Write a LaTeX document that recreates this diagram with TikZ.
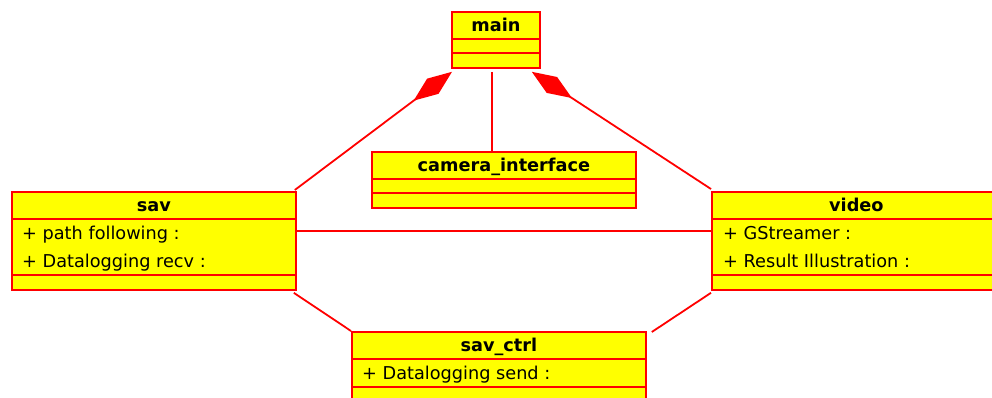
\documentclass[tikz,border=0pt]{standalone}
\usepackage{fontspec}
\setmainfont{DejaVu Sans}
\usetikzlibrary{arrows.meta,calc}

\definecolor{clsline}{RGB}{255,0,0}
\definecolor{clsfill}{RGB}{255,255,0}

\begin{document}
\begin{tikzpicture}[
    x=1pt, y=-1pt,
    font=\fontsize{17.7}{21}\selectfont,
    umlline/.style={clsline, line width=1.8pt},
    clsbox/.style={draw=clsline, fill=clsfill, line width=1.8pt, inner sep=0pt, anchor=north west},
    clsname/.style={font=\fontsize{17.7}{21}\selectfont\bfseries, inner sep=0pt, anchor=base},
    attr/.style={inner sep=0pt, anchor=base west},
    owns/.style={{Diamond[length=48pt, width=19pt]}-, umlline},
]

% class box: name, left, top, width, attribute rows, title
\newcommand{\umlclass}[6]{
    \pgfmathsetmacro{\attrh}{#5==0 ? 14 : 28*#5}
    \node[clsbox, minimum width=#4, minimum height={42+\attrh}] (#1) at (#2,#3) {};
    \node[clsname] (#1-name) at ($(#1.north)+(0,20)$) {#6};
    \draw[umlline] ($(#1.north west)+(0,28)$) -- ($(#1.north east)+(0,28)$);
    \draw[umlline] ($(#1.north west)+(0,28+\attrh)$) -- ($(#1.north east)+(0,28+\attrh)$);
}

\useasboundingbox (0,0) rectangle (992,397);
\clip (0,0) rectangle (992,397);

% Classes
\umlclass{main}{451}{11}{88}{0}{main}
\umlclass{camera}{371}{151}{264}{0}{camera\_interface}
\umlclass{sav}{11}{191}{284}{2}{sav}
\umlclass{video}{711}{191}{289}{2}{video}
\umlclass{savctrl}{351}{331}{294}{1}{sav\_ctrl}

% Attributes
\node[attr] (sav-a1) at ($(sav.north west)+(11,48)$) {+ path following :};
\node[attr] (sav-a2) at ($(sav.north west)+(11,76)$) {+ Datalogging recv :};
\node[attr] (video-a1) at ($(video.north west)+(12,48)$) {+ GStreamer :};
\node[attr] (video-a2) at ($(video.north west)+(12,76)$) {+ Result Illustration :};
\node[attr] (savctrl-a1) at ($(savctrl.north west)+(11,48)$) {+ Datalogging send :};

% main owns sav and video
\draw[owns] ($(main.south west)+(1,3)$) -- ($(sav.north east)+(-2,-1)$);
\draw[owns] ($(main.south east)+(-9,3)$) -- ($(video.north west)+(0,-2)$);
\draw[umlline] ($(main.south)+(-4,3)$) coordinate (mc) -- (mc |- camera.north);

% plain associations
\draw[umlline] ($(sav.north east)+(0,40)$) -- ($(video.north west)+(0,40)$);
\draw[umlline] ($(sav.south east)+(-3,2)$) -- (savctrl.north west);
\draw[umlline] ($(video.south west)+(0,2)$) -- ($(savctrl.north east)+(5,1)$);

\end{tikzpicture}
\end{document}
